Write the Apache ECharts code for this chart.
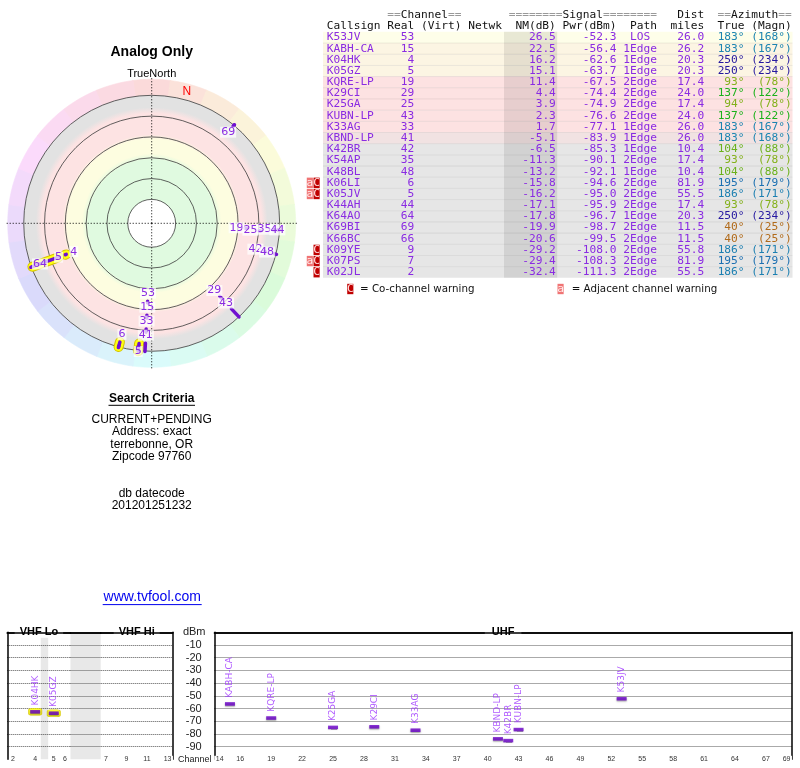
<!DOCTYPE html>
<html><head><meta charset="utf-8">
<script src="https://cdn.jsdelivr.net/npm/echarts@6/dist/echarts.min.js"></script>
<style>html,body{margin:0;padding:0;background:#fff}#c{width:800px;height:768px}</style>
</head><body><div id="c"></div><script>
// ---------------- DATA ----------------
const callsigns = ['K53JV','KABH-CA','K04HK','K05GZ','KQRE-LP','K29CI','K25GA','KUBN-LP','K33AG','KBND-LP','K42BR','K54AP','K48BL','K06LI','K05JV','K44AH','K64AO','K69BI','K66BC','K09YE','K07PS','K02JL'];
const realCh = [53,15,4,5,19,29,25,43,33,41,42,35,48,6,5,44,64,69,66,9,7,2];
const nmDb = [26.5,22.5,16.2,15.1,11.4,4.4,3.9,2.3,1.7,-5.1,-6.5,-11.3,-13.2,-15.8,-16.2,-17.1,-17.8,-19.9,-20.6,-29.2,-29.4,-32.4];
const pwrDbm = [-52.3,-56.4,-62.6,-63.7,-67.5,-74.4,-74.9,-76.6,-77.1,-83.9,-85.3,-90.1,-92.1,-94.6,-95.0,-95.9,-96.7,-98.7,-99.5,-108.0,-108.3,-111.3];
const pathType = ['LOS','1Edge','1Edge','1Edge','2Edge','2Edge','2Edge','2Edge','1Edge','1Edge','1Edge','2Edge','1Edge','2Edge','2Edge','2Edge','1Edge','2Edge','2Edge','2Edge','2Edge','2Edge'];
const distMiles = [26.0,26.2,20.3,20.3,17.4,24.0,17.4,24.0,26.0,26.0,10.4,17.4,10.4,81.9,55.5,17.4,20.3,11.5,11.5,55.8,81.9,55.5];
const azTrue = [183,183,250,250,93,137,94,137,183,183,104,93,104,195,186,93,250,40,40,186,195,186];
const azMagn = [168,167,234,234,78,122,78,122,167,168,88,78,88,179,171,78,234,25,25,171,179,171];
const adjWarn = [0,0,0,0,0,0,0,0,0,0,0,0,0,1,1,0,0,0,0,0,1,0];
const coWarn  = [0,0,0,0,0,0,0,0,0,0,0,0,0,1,1,0,0,0,0,1,1,1];
// radar plot: radial extent of each station mark, on the plot's ring scale (dB, 10 per ring)
const radarIn  = [24.0,17.3,17.8,13.9,16.8,13.5,10.1,5.3,10.6,3.8,6.3,3.4,0.5,2.4,3.4,1.0,0.5,0.5,0.5,0.5,0.5,0.5];
const radarOut = [23.2,15.9,17.3,0.5,15.9,12.0,9.1,0.0,9.1,-0.2,5.3,2.4,-0.3,0.0,1.0,0.0,-0.3,-0.3,-0.3,-0.3,-0.3,-0.3];
const ringVals = [50,40,30,20,10,0];
const crossAngles = [0,90,180,270];
const wedgeAngles = [0,15,30,45,60,75,90,105,120,135,150,165,180,195,210,225,240,255,270,285,300,315,330,345];
// spectrum chart tick channels
const vhfLoTicks = [2,4,5,6];
const vhfHiTicks = [7,9,11,13];
const uhfTicks = [14,16,19,22,25,28,31,34,37,40,43,46,49,52,55,58,61,64,67,69];
const searchLines = ['CURRENT+PENDING','Address: exact','terrebonne, OR','Zipcode 97760'];
const dateLines = ['db datecode','201201251232'];

// ---------------- helpers ----------------
function chToMHz(ch){ if(ch<=4) return 57+6*(ch-2); if(ch<=6) return 79+6*(ch-5); if(ch<=13) return 177+6*(ch-7); return 473+6*(ch-14); }
function mhzToCh(v){ const all=vhfLoTicks.concat(vhfHiTicks,uhfTicks); for(const c of all){ if(Math.abs(chToMHz(c)-v)<0.01) return c; } return ''; }
const PURPLE = '#8a2be2', BAR = '#6a00c8';
const RMIN = -7.7, RMAX = 61.5;
const labelMode = {K05GZ:'at', K05JV:'out', K44AH:'at', K66BC:'none', K09YE:'none', K07PS:'none', K02JL:'none'};
function azColor(az){
  const a=[[0,0],[40,32],[93,78],[104,88],[137,120],[183,198],[250,246],[360,360]];
  let h=0; for(let k=0;k<a.length-1;k++){ if(az>=a[k][0]&&az<=a[k+1][0]){ h=a[k][1]+(az-a[k][0])/(a[k+1][0]-a[k][0])*(a[k+1][1]-a[k][1]); break; } }
  return `hsl(${h},74%,${az>230?36:40}%)`;
}
function rowFill(nm){ if(nm>=25) return '#fefee9'; if(nm>=14) return '#fcf5e3'; if(nm>=0) return '#fde2e2'; if(nm>=-6) return '#f1e2e2'; return '#e6e6e6'; }
function ctx(params, api){ const cs=params.coordSys; return {cx:cs.cx, cy:cs.cy, rad: v=>{const p=api.coord([v,0]); return Math.hypot(p[0]-cs.cx,p[1]-cs.cy);}}; }

// ---------------- radar series ----------------
const zoneStops = [[50,'#e0fae0'],[31,'#e0fae0'],[28,'#fdfde0'],[21,'#fdfde0'],[18.8,'#fde3e3'],[8.7,'#fde3e3'],[5.8,'#e2e2e2'],[0,'#e2e2e2']];
const polarSeries = [
  {type:'custom', coordinateSystem:'polar', z:1, silent:true, data: wedgeAngles.map(a=>[0,a]),
   renderItem(params, api){ const a=api.value(1); const pts=[];
     for(let t=a-7.6;t<=a+7.61;t+=1.9) pts.push(api.coord([0,t]));
     for(let t=a+7.6;t>=a-7.61;t-=1.9) pts.push(api.coord([RMIN,t]));
     const c=`hsl(${a},80%,92%)`;
     return {type:'polygon', shape:{points:pts}, style:{fill:c, stroke:c, lineWidth:0.6}}; }},
  {type:'custom', coordinateSystem:'polar', z:2, silent:true, data:[[0,0]],
   renderItem(params, api){ const {cx,cy,rad}=ctx(params,api); const R=rad(0);
     const stops=zoneStops.map(([v,c])=>({offset:Math.max(0,Math.min(1,rad(v)/R)), color:c})).sort((a,b)=>a.offset-b.offset);
     return {type:'circle', shape:{cx,cy,r:R}, style:{fill:new echarts.graphic.RadialGradient(0.5,0.5,0.5,stops)}}; }},
  {type:'custom', coordinateSystem:'polar', z:3, silent:true, data: ringVals.map(v=>[v,0]),
   renderItem(params, api){ const {cx,cy,rad}=ctx(params,api); const v=api.value(0);
     return {type:'circle', shape:{cx,cy,r:rad(v)}, style:{fill: v===Math.max(...ringVals)?'#fff':'none', stroke:'#3a3a3a', lineWidth:0.8}}; }},
  {type:'custom', coordinateSystem:'polar', z:4, silent:true, data: crossAngles.map(a=>[RMIN,a]),
   renderItem(params, api){ const cs=params.coordSys; const p=api.coord([RMIN, api.value(1)]);
     const dx=p[0]-cs.cx, dy=p[1]-cs.cy, d=Math.hypot(dx,dy);
     return {type:'line', shape:{x1:cs.cx,y1:cs.cy,x2:p[0]+dx/d*1.5,y2:p[1]+dy/d*1.5}, style:{stroke:'#000', lineWidth:1, lineDash:[1,2]}}; }},
  {type:'custom', coordinateSystem:'polar', z:4, silent:true, data:[[-3.8, azTrue[0]-azMagn[0]]],
   renderItem(params, api){ const p=api.coord([api.value(0),api.value(1)]);
     return {type:'text', x:p[0], y:p[1], style:{text:'N', fill:'#ff0000', font:'12px "Liberation Sans"', align:'center', verticalAlign:'middle'}}; }},
  {type:'custom', coordinateSystem:'polar', z:5, silent:true, data: callsigns.map((c,i)=>[radarIn[i],azTrue[i]]),
   renderItem(params, api){ const i=params.dataIndex; if(realCh[i]>6) return null;
     const p1=api.coord([radarIn[i],azTrue[i]]), p2=api.coord([radarOut[i],azTrue[i]]);
     return {type:'group', children:[
       {type:'line', shape:{x1:p1[0],y1:p1[1],x2:p2[0],y2:p2[1]}, style:{stroke:'#d6c400', lineWidth:10, lineCap:'round'}},
       {type:'line', shape:{x1:p1[0],y1:p1[1],x2:p2[0],y2:p2[1]}, style:{stroke:'#ffff10', lineWidth:8, lineCap:'round'}}]}; }},
  {type:'custom', coordinateSystem:'polar', z:6, silent:true, data: callsigns.map((c,i)=>[radarIn[i],azTrue[i]]),
   renderItem(params, api){ const i=params.dataIndex;
     const p1=api.coord([radarIn[i],azTrue[i]]), p2=api.coord([radarOut[i],azTrue[i]]);
     return {type:'line', shape:{x1:p1[0],y1:p1[1],x2:p2[0],y2:p2[1]}, style:{stroke:'#7010d0', lineWidth:3.5, lineCap:'round'}}; }},
  {type:'custom', coordinateSystem:'polar', z:7, silent:true, data: callsigns.map((c,i)=>[radarIn[i],azTrue[i]]),
   renderItem(params, api){ const i=params.dataIndex; const mode=labelMode[callsigns[i]]||'in'; if(mode==='none') return null;
     const cs=params.coordSys; const p=api.coord([radarIn[i],azTrue[i]]);
     const dx=p[0]-cs.cx, dy=p[1]-cs.cy, d=Math.hypot(dx,dy); const off=mode==='in'?-8:mode==='out'?8:0;
     return {type:'text', x:p[0]+dx/d*off, y:p[1]+dy/d*off, style:{text:String(realCh[i]), fill:PURPLE, font:'11px "DejaVu Sans"', align:'center', verticalAlign:'middle', backgroundColor:'rgba(255,255,255,0.72)', padding:[0,1]}}; }}
];

// ---------------- spectrum chart ----------------
const TOP=632.3, H=127;
const grids = [
  {left:7.3, top:TOP, width:63.2, height:H, outerBoundsMode:'none'},
  {left:70.5, top:TOP, width:30.2, height:H, show:true, backgroundColor:'#e8e8e8', borderWidth:0, outerBoundsMode:'none'},
  {left:100.7, top:TOP, width:72, height:H, outerBoundsMode:'none'},
  {left:214.5, top:TOP, width:577.2, height:H, outerBoundsMode:'none'}
];
const ranges = [[54,88],[88,174],[174,216],[470,806]];
const frameLine = {show:true, lineStyle:{color:'#000', width:1.5}};
const tickSets = [vhfLoTicks, null, vhfHiTicks, uhfTicks];
const xAxes = [];
ranges.forEach((r,gi)=>{
  xAxes.push({gridIndex:gi, type:'value', min:r[0], max:r[1], position:'bottom', axisLine:frameLine, axisTick:{show:false}, splitLine:{show:false}, z:3,
    axisLabel: tickSets[gi] ? {customValues: tickSets[gi].map(chToMHz), formatter: v=>String(mhzToCh(v)), fontSize:7, fontFamily:'Liberation Sans', color:'#333', margin:0, verticalAlign:'middle', backgroundColor:'#fff', padding:[0,1.5]} : {show:false}});
});
const topNames = ['VHF Lo', '', 'VHF Hi', 'UHF'];
ranges.forEach((r,gi)=>{
  xAxes.push({gridIndex:gi, type:'value', min:r[0], max:r[1], position:'top', axisLine:frameLine, axisTick:{show:false}, axisLabel:{show:false}, splitLine:{show:false}, z:6,
    name: topNames[gi], nameLocation:'middle', nameGap:0, nameMoveOverlap:false,
    nameTextStyle:{fontWeight:'bold', fontSize:11, fontFamily:'Liberation Sans', color:'#000', backgroundColor: topNames[gi]?'#fff':'transparent', padding:[0,gi===3?7:5], verticalAlign:'middle'}});
});
const dotted = {show:true, showMinLine:false, showMaxLine:false, lineStyle:{color:'#555', type:'dotted', width:1}};
const yBase = (gi,pos)=>({gridIndex:gi, type:'value', min:-100, max:0, interval:10, position:pos, axisLine:{show:false}, axisTick:{show:false}, axisLabel:{show:false}, splitLine:dotted});
const yAxes = [
  Object.assign(yBase(0,'left'), {axisLine:frameLine}),
  yBase(1,'left'),
  Object.assign(yBase(2,'right'), {axisLine:frameLine}),
  Object.assign(yBase(3,'left'), {axisLine:frameLine, axisLabel:{show:true, showMinLabel:false, showMaxLabel:false, margin:12.8, fontSize:11, fontFamily:'Liberation Sans', color:'#222'},
    name:'dBm', nameLocation:'end', nameGap:0, nameMoveOverlap:false, nameTextStyle:{fontSize:11, fontFamily:'Liberation Sans', color:'#222', align:'right', verticalAlign:'middle', padding:[0,9,0,0]}}),
  Object.assign(yBase(3,'right'), {axisLine:frameLine, splitLine:{show:false}})
];
const shown = callsigns.map((c,i)=>i).filter(i=>nmDb[i] > -10);
const bandOf = ch => ch<=6?0:(ch<=13?2:3);
const specSeries = [];
[0,2,3].forEach(gi=>{
  const pts = shown.filter(i=>bandOf(realCh[i])===gi).map(i=>({name:callsigns[i], value:[chToMHz(realCh[i]), pwrDbm[i]]}));
  if(gi===0){
    specSeries.push({type:'scatter', xAxisIndex:0, yAxisIndex:0, z:3, silent:true, data:pts, symbol:'roundRect', symbolSize:[13,7], itemStyle:{color:'#ffff00', borderColor:'#d8c800', borderWidth:0.8},
      markArea:{silent:true, itemStyle:{color:'rgba(0,0,0,0.09)'}, data:[[{xAxis:72},{xAxis:76}]]}});
  }
  specSeries.push({type:'scatter', xAxisIndex:gi, yAxisIndex:gi, z:4, silent:true, data:pts, symbol:'rect', symbolSize:[10,3.6],
    itemStyle:{color:BAR, shadowColor:'rgba(0,0,0,0.45)', shadowBlur:1.5, shadowOffsetY:1},
    label:{show:true, formatter:'{b}', position:'top', distance:4.5, rotate:90, align:'left', verticalAlign:'middle', fontSize:9, fontFamily:'DejaVu Sans', color:'#9b30ff'}});
});

// ---------------- text / table graphics ----------------
const els = [];
function T(text,x,y,fill,font,align,z){ return {type:'text', x, y, z:z||10, silent:true, style:{text, fill, font, align:align||'left', verticalAlign:'middle'}}; }
const SANS='"Liberation Sans"';
els.push(T('Analog Only',151.7,51.7,'#000','bold 14px '+SANS,'center'));
els.push(T('TrueNorth',151.7,74,'#000','11px '+SANS,'center'));
els.push(T('Search Criteria',151.7,398.3,'#000','bold 12px '+SANS,'center'));
els.push({type:'line', silent:true, z:10, shape:{x1:108.5,y1:405.3,x2:195,y2:405.3}, style:{stroke:'#000', lineWidth:1}});
searchLines.forEach((s,k)=>els.push(T(s,151.7,419.5+12.47*k,'#000','12px '+SANS,'center')));
dateLines.forEach((s,k)=>els.push(T(s,151.7,494+11.8*k,'#000','12px '+SANS,'center')));
els.push(T('www.tvfool.com',152.2,597.5,'#0000ee','14px '+SANS,'center'));
els.push({type:'line', silent:true, z:10, shape:{x1:102.7,y1:604.6,x2:201.7,y2:604.6}, style:{stroke:'#0000ee', lineWidth:1}});
els.push(T('Channel',211.5,759.8,'#222','9px '+SANS,'right'));

const CW=6.74, TX=326.7, LH=11.18, Y0=15.1;
const MONO='11.2px "DejaVu Sans Mono"';
const colX = c => TX + c*CW;
const rowY = i => Y0 + LH*(i+2);
// header
const H1=Y0, H2=Y0+LH, GR='#999', HK='#111';
[['==',9,GR],['Channel',11,HK],['==',18,GR],['========',27,GR],['Signal',35,HK],['========',41,GR],['Dist',52,HK],['==',58,GR],['Azimuth',60,HK],['==',67,GR]]
  .forEach(([s,c,f])=>els.push(T(s,colX(c),H1,f,MONO)));
[['Callsign',0],['Real',9],['(Virt)',14],['Netwk',21],['NM(dB)',28],['Pwr(dBm)',35],['Path',45],['miles',51],['True',58],['(Magn)',63]]
  .forEach(([s,c])=>els.push(T(s,colX(c),H2,HK,MONO)));
// rows
callsigns.forEach((cs,i)=>{
  const y=rowY(i);
  els.push({type:'rect', silent:true, z:1, shape:{x:323, y:y-LH/2, width:469.5, height:LH}, style:{fill:rowFill(nmDb[i])}});
  if(i>0) els.push({type:'line', silent:true, z:2, shape:{x1:323,y1:y-LH/2,x2:792.5,y2:y-LH/2}, style:{stroke:'rgba(0,0,0,0.07)', lineWidth:1}});
  els.push(T(cs,colX(0),y,PURPLE,MONO));
  els.push(T(String(realCh[i]),colX(13),y,PURPLE,MONO,'right'));
  els.push(T(nmDb[i].toFixed(1),colX(34),y,PURPLE,MONO,'right'));
  els.push(T(pwrDbm[i].toFixed(1),colX(43),y,PURPLE,MONO,'right'));
  els.push(T(pathType[i],colX(46.5),y,PURPLE,MONO,'center'));
  els.push(T(distMiles[i].toFixed(1),colX(56),y,PURPLE,MONO,'right'));
  const ac=azColor(azTrue[i]);
  els.push(T(azTrue[i]+'°',colX(62),y,ac,MONO,'right'));
  els.push(T('('+azMagn[i]+'°)',colX(69),y,ac,MONO,'right'));
  if(adjWarn[i]){ els.push({type:'rect', silent:true, z:3, shape:{x:colX(-3)+0.3,y:y-LH/2+0.4,width:CW-0.6,height:LH-0.8}, style:{fill:'#f07474'}}); els.push(T('a',colX(-2.5),y,'#ffe8e8',MONO,'center',11)); }
  if(coWarn[i]){ els.push({type:'rect', silent:true, z:3, shape:{x:colX(-2)+0.3,y:y-LH/2+0.4,width:CW-0.6,height:LH-0.8}, style:{fill:'#c00000'}}); els.push(T('C',colX(-1.5),y,'#ffdede',MONO,'center',11)); }
});
els.push({type:'rect', silent:true, z:2, shape:{x:colX(26.3), y:rowY(0)-LH/2, width:CW*7.9, height:LH*callsigns.length}, style:{fill:'rgba(0,0,0,0.085)'}});
// legend
const LY=289;
els.push({type:'rect', silent:true, z:3, shape:{x:colX(3)+0.3,y:LY-LH/2+0.4,width:CW-0.6,height:LH-0.8}, style:{fill:'#c00000'}});
els.push(T('C',colX(3.5),LY,'#ffdede',MONO,'center',11));
els.push(T('= Co-channel warning',360,LY,'#111','10.3px "DejaVu Sans"'));
els.push({type:'rect', silent:true, z:3, shape:{x:colX(34.2)+0.3,y:LY-LH/2+0.4,width:CW-0.6,height:LH-0.8}, style:{fill:'#f07474'}});
els.push(T('a',colX(34.7),LY,'#ffe8e8',MONO,'center',11));
els.push(T('= Adjacent channel warning',571.7,LY,'#111','10.3px "DejaVu Sans"'));

const option = {
  animation:false,
  polar:{center:[151.7,223.3], radius:[0,144]},
  angleAxis:{type:'value', min:0, max:360, startAngle:90, clockwise:true, show:false},
  radiusAxis:{type:'value', min:RMIN, max:RMAX, inverse:true, show:false},
  grid:grids, xAxis:xAxes, yAxis:yAxes,
  series: polarSeries.concat(specSeries),
  graphic:{elements:els}
};
const chart = echarts.init(document.getElementById('c'));
chart.setOption(option);
</script></body></html>
